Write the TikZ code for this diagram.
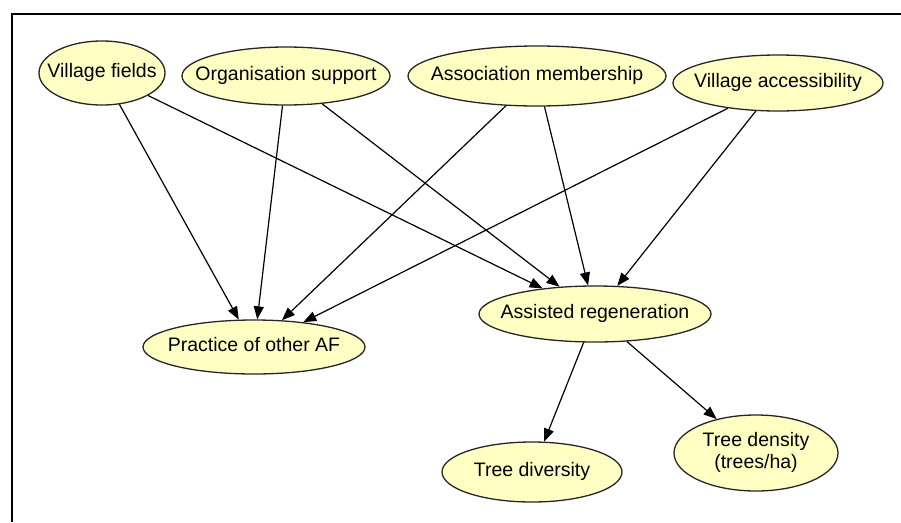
\documentclass[tikz,border=0pt]{standalone}
\usepackage{fontspec}
\setmainfont{Liberation Sans}
\usetikzlibrary{shapes.geometric,arrows.meta}
\definecolor{nodefill}{RGB}{255,255,196}
% zero-width label so the ellipse size is set by minimum width/height alone
\newcommand\varlabel[1]{\makebox[0pt]{\begin{tabular}{@{}c@{}}#1\end{tabular}}}
\begin{document}
\begin{tikzpicture}[x=1pt,y=-1pt,
  var/.style={ellipse, draw=black!85, line width=1.3pt, fill=nodefill,
    inner sep=0pt, font=\fontsize{19.5}{22}\selectfont},
  link/.style={line width=1.2pt, -{Triangle[length=13pt,width=10pt]}}]
\useasboundingbox (0,0) rectangle (901,522);
\fill[white] (0,0) rectangle (901,522);
% frame
\draw[line width=2pt] (901,14) -- (11.5,14) -- (11.5,522);
% variables
\node[var, minimum width=126pt, minimum height=64pt] (vf) at (102,73) {\varlabel{Village fields}};
\node[var, minimum width=208pt, minimum height=58pt] (os) at (286,76) {\varlabel{Organisation support}};
\node[var, minimum width=258pt, minimum height=60pt] (am) at (537,76) {\varlabel{Association membership}};
\node[var, minimum width=210pt, minimum height=56pt] (va) at (778,83) {\varlabel{Village accessibility}};
\node[var, minimum width=232pt, minimum height=56pt] (ar) at (595,314) {\varlabel{Assisted regeneration}};
\node[var, minimum width=222pt, minimum height=54pt] (pa) at (254,347) {\varlabel{Practice of other AF}};
\node[var, minimum width=180pt, minimum height=60pt] (td) at (532,472) {\varlabel{Tree diversity}};
\node[var, minimum width=164pt, minimum height=76pt] (tn) at (756,453) {\varlabel{Tree density\\(trees/ha)}};
% influences
\draw[link] (vf) -- (pa);
\draw[link] (vf) -- (ar);
\draw[link] (os) -- (pa);
\draw[link] (os) -- (ar);
\draw[link] (am) -- (pa);
\draw[link] (am) -- (ar);
\draw[link] (va) -- (pa);
\draw[link] (va) -- (ar);
\draw[link] (ar) -- (td);
\draw[link] (ar) -- (tn);
\end{tikzpicture}
\end{document}
